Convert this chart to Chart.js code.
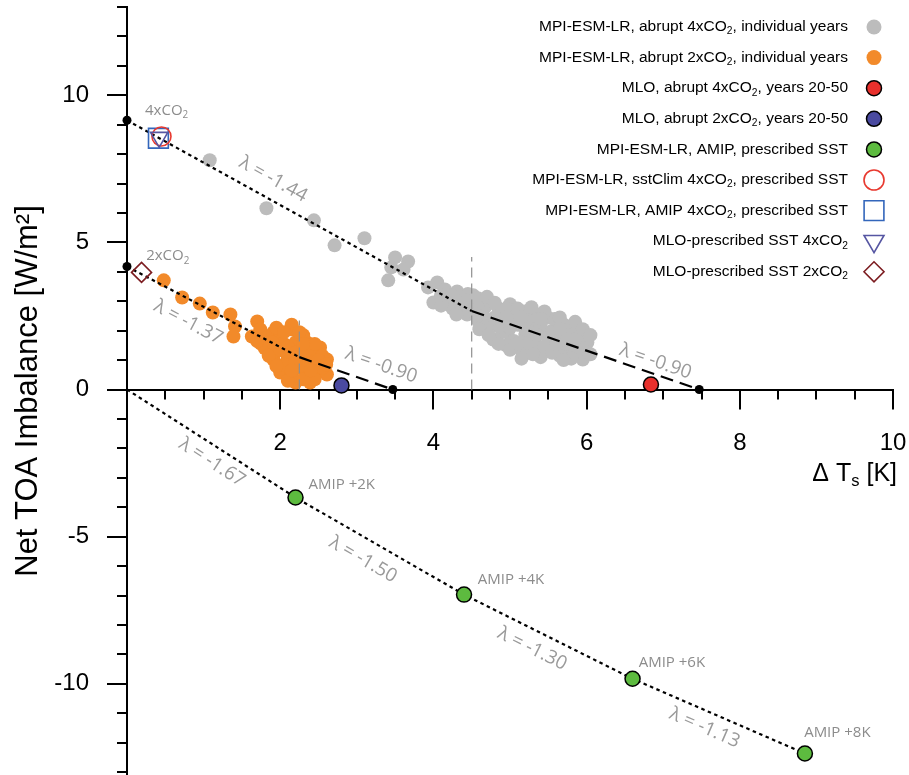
<!DOCTYPE html>
<html>
<head>
<meta charset="utf-8">
<script src="https://cdn.jsdelivr.net/npm/chart.js"></script>
<style>
  html, body { margin: 0; padding: 0; background: #fff; }
  #wrap { width: 909px; height: 775px; }
</style>
</head>
<body>
<div id="wrap"><canvas id="feedback" width="909" height="775"></canvas></div>
<script>
// axis ticks
const xTickValues = [2, 4, 6, 8, 10];
const yTickValues = [-10, -5, 0, 5, 10];

// MPI-ESM-LR abrupt 4xCO2, one point per year [dTs, N]
const abrupt4xYears = [
  [1.08, 7.79], [1.82, 6.16], [2.44, 5.75], [2.71, 4.90], [3.10, 5.14], [3.50, 4.49],
  [3.67, 4.35], [3.45, 4.15], [3.61, 4.08], [3.41, 3.71], [4.05, 3.64], [3.93, 3.47],
  [4.00, 2.96], [4.18, 3.16], [4.31, 3.33], [4.20, 3.00], [4.38, 2.79], [4.44, 2.55],
  [4.64, 3.06], [4.68, 2.82], [4.59, 2.31], [4.72, 2.38], [4.88, 2.55], [4.78, 1.70],
  [4.97, 1.94], [5.05, 2.38], [5.18, 2.65], [5.36, 2.55], [5.49, 2.45], [5.14, 1.36],
  [5.31, 1.70], [5.44, 1.94], [5.62, 2.14], [5.70, 2.21], [5.79, 2.11], [5.66, 1.70],
  [5.83, 1.60], [6.01, 1.60], [5.95, 1.02], [5.75, 1.36], [5.49, 1.36], [5.23, 1.26],
  [4.52, 3.20], [4.56, 2.95], [4.62, 2.70], [4.75, 2.95], [4.85, 2.75], [4.92, 2.30],
  [5.00, 2.60], [5.10, 2.20], [5.25, 2.35], [5.30, 2.05], [5.40, 2.20], [5.55, 2.00],
  [5.58, 2.40], [5.35, 1.50], [5.50, 1.65], [5.60, 1.90], [5.90, 1.90], [5.95, 1.40],
  [5.20, 1.85], [5.05, 1.65], [4.90, 1.95], [4.85, 2.15], [4.65, 2.50], [4.25, 2.75],
  [4.10, 2.85], [4.30, 2.55], [5.72, 1.55], [5.85, 1.25], [5.65, 1.15], [5.40, 1.10],
  [4.95, 1.50], [5.15, 1.05], [6.05, 1.20], [5.00, 2.90], [5.28, 2.80], [4.15, 3.40],
  [4.45, 3.25], [4.50, 2.85], [4.58, 3.10], [4.70, 3.15], [4.80, 2.95], [4.95, 2.75],
  [5.10, 2.75], [5.15, 2.45], [5.45, 2.65], [5.65, 2.45], [5.85, 2.30], [5.95, 2.05],
  [6.05, 1.85], [4.70, 2.15], [4.80, 2.45], [4.60, 2.05], [4.72, 1.85], [4.85, 1.55],
  [5.00, 1.35], [5.10, 1.55], [5.25, 1.55], [5.20, 2.05], [5.35, 1.85], [5.45, 1.45],
  [5.55, 1.25], [5.60, 1.55], [5.75, 1.85], [5.80, 1.05], [5.70, 1.00], [5.30, 1.20],
  [5.00, 2.10], [4.95, 2.45], [5.40, 2.40], [5.65, 2.05], [5.85, 1.70], [4.40, 3.05],
  [4.35, 2.95], [4.10, 3.20], [4.25, 3.20], [4.55, 2.55]
];

// MPI-ESM-LR abrupt 2xCO2, one point per year
const abrupt2xYears = [
  [0.48, 3.71], [0.72, 3.13], [0.95, 2.92], [1.12, 2.62], [1.35, 2.55], [1.41, 2.14],
  [1.39, 1.80], [1.70, 2.31], [1.63, 1.80], [1.74, 2.04], [1.83, 1.77], [1.91, 1.94],
  [2.16, 2.04], [2.35, 1.60], [2.52, 1.43], [2.61, 1.02], [2.61, 0.51], [2.39, 0.24],
  [2.00, 0.58], [1.91, 1.02], [2.26, 0.75], [2.20, 0.24], [1.80, 1.40], [1.95, 1.30],
  [2.05, 1.55], [2.10, 1.10], [2.25, 1.30], [2.30, 1.05], [2.40, 1.20], [2.45, 0.85],
  [2.50, 0.60], [2.35, 0.50], [2.15, 0.45], [2.05, 0.85], [1.85, 1.15], [2.55, 1.15],
  [2.00, 1.75], [2.20, 1.60], [2.40, 0.90], [2.10, 0.30], [2.45, 0.35], [1.75, 1.55],
  [2.30, 1.85], [2.15, 2.20], [1.95, 2.10], [2.05, 1.95], [2.25, 1.95], [2.35, 1.35],
  [2.50, 1.00], [2.55, 0.75], [2.30, 0.70], [2.20, 0.95], [2.00, 1.35], [1.90, 1.60],
  [2.10, 1.45], [2.45, 1.55], [2.15, 0.65], [2.30, 0.35], [2.60, 0.85], [1.95, 0.80],
  [2.20, 1.25], [2.40, 0.65], [1.70, 1.65], [2.30, 1.55]
];

const mlo4x = [[6.84, 0.17]];
const mlo2x = [[2.80, 0.14]];

// AMIP uniform SST warming experiments
const amipTags = ['AMIP +2K', 'AMIP +4K', 'AMIP +6K', 'AMIP +8K'];
const amipWarming = [2.20, 4.40, 6.60, 8.85];
const amipImbalance = [-3.67, -6.97, -9.83, -12.37];

// fixed-SST forcing estimates
const sstClim4x = [[0.45, 8.60]];
const amip4x = [[0.41, 8.54]];
const mloSst4x = [[0.42, 8.57]];
const mloSst2x = [[0.19, 3.98]];

// regression fits: early years (dotted) and later years (dashed)
const fit4xEarly = [[0, 9.15], [4.5, 2.67]];
const fit4xLate = [[4.5, 2.67], [7.47, 0]];
const fit2xEarly = [[0, 4.18], [2.25, 1.10]];
const fit2xLate = [[2.25, 1.10], [3.47, 0]];
const fitIntercepts = [[0, 9.15], [7.47, 0], [0, 4.18], [3.47, 0]];
const splitYear4x = [[4.5, 0], [4.5, 4.5]];
const splitYear2x = [[2.25, 0], [2.25, 2.35]];

const FONT = "'Liberation Sans', Arial, Helvetica, sans-serif";
const NOTE_FONT = "'Open Sans', 'DejaVu Sans', sans-serif";

const toPts = arr => arr.map(([x, y]) => ({ x, y }));
const amipPts = amipWarming.map((x, i) => ({ x, y: amipImbalance[i] }));

function marker(label, data, style, opts) {
  return Object.assign({
    label: label,
    data: data,
    pointStyle: style,
    pointRadius: 7,
    pointHoverRadius: 7,
    pointBorderWidth: 0,
    pointRotation: 0,
    clip: false
  }, opts);
}

function segment(data, dash, color, width, order) {
  return {
    data: toPts(data),
    showLine: true,
    borderColor: color,
    borderWidth: width,
    borderDash: dash,
    pointRadius: 0,
    pointHoverRadius: 0,
    order: order,
    clip: false
  };
}

const datasets = [
  marker('MPI-ESM-LR, abrupt 4xCO₂, individual years', toPts(abrupt4xYears), 'circle',
    { pointRadius: 7, legendRadius: 7.5, pointBackgroundColor: '#bcbcbc', pointBorderColor: '#bcbcbc', order: 20 }),
  marker('MPI-ESM-LR, abrupt 2xCO₂, individual years', toPts(abrupt2xYears), 'circle',
    { pointRadius: 7, legendRadius: 7.5, pointBackgroundColor: '#f28a2a', pointBorderColor: '#f28a2a', order: 19 }),
  marker('MLO, abrupt 4xCO₂, years 20-50', toPts(mlo4x), 'circle',
    { pointRadius: 7.5, pointBackgroundColor: '#e8302c', pointBorderColor: '#000', pointBorderWidth: 1.5, order: 3 }),
  marker('MLO, abrupt 2xCO₂, years 20-50', toPts(mlo2x), 'circle',
    { pointRadius: 7.5, pointBackgroundColor: '#4a4aa0', pointBorderColor: '#000', pointBorderWidth: 1.5, order: 3 }),
  marker('MPI-ESM-LR, AMIP, prescribed SST', amipPts, 'circle',
    { pointRadius: 7.5, pointBackgroundColor: '#5dbb3f', pointBorderColor: '#000', pointBorderWidth: 1.5, order: 3 }),
  marker('MPI-ESM-LR, sstClim 4xCO₂, prescribed SST', toPts(sstClim4x), 'circle',
    { pointRadius: 9.5, legendRadius: 10, pointBackgroundColor: 'rgba(0,0,0,0)', pointBorderColor: '#e8392f', pointBorderWidth: 1.6, order: 2 }),
  marker('MPI-ESM-LR, AMIP 4xCO₂, prescribed SST', toPts(amip4x), 'rect',
    { pointRadius: 14, pointBackgroundColor: 'rgba(0,0,0,0)', pointBorderColor: '#3366bb', pointBorderWidth: 1.6, order: 2 }),
  marker('MLO-prescribed SST 4xCO₂', toPts(mloSst4x), 'triangle',
    { pointRadius: 10, legendRadius: 11.5, pointRotation: 180, pointBackgroundColor: 'rgba(0,0,0,0)', pointBorderColor: '#5656a2', pointBorderWidth: 1.6, order: 1 }),
  marker('MLO-prescribed SST 2xCO₂', toPts(mloSst2x), 'rectRot',
    { pointRadius: 10, pointBackgroundColor: 'rgba(0,0,0,0)', pointBorderColor: '#7c1c20', pointBorderWidth: 1.6, order: 1 }),

  segment(splitYear4x, [10, 6], '#8f8f8f', 1.2, 12),
  segment(splitYear2x, [10, 6], '#8f8f8f', 1.2, 12),
  segment(fit4xEarly, [3.5, 3.5], '#000', 2.2, 10),
  segment(fit4xLate, [13, 7], '#000', 2.2, 10),
  segment(fit2xEarly, [3.5, 3.5], '#000', 2.2, 10),
  segment(fit2xLate, [13, 7], '#000', 2.2, 10),
  Object.assign(segment([[0, 0]], [3.5, 3.5], '#000', 2.2, 10), { data: [{ x: 0, y: 0 }].concat(amipPts) }),
  {
    data: toPts(fitIntercepts),
    pointStyle: 'circle',
    pointRadius: 4.5,
    pointHoverRadius: 4.5,
    pointBackgroundColor: '#000',
    pointBorderWidth: 0,
    order: 4,
    clip: false
  }
];

// slope labels placed along the fitted lines
const slopeNotes = [
  { text: 'λ = -1.44', x: 1.91, y: 7.14, slope: -1.44 },
  { text: 'λ = -1.37', x: 0.80, y: 2.28, slope: -1.37 },
  { text: 'λ = -0.90', x: 3.32, y: 0.82, slope: -0.90 },
  { text: 'λ = -0.90', x: 6.90, y: 0.95, slope: -0.90 },
  { text: 'λ = -1.67', x: 1.11, y: -2.48, slope: -1.67 },
  { text: 'λ = -1.50', x: 3.08, y: -5.78, slope: -1.50 },
  { text: 'λ = -1.30', x: 5.29, y: -8.81, slope: -1.30 },
  { text: 'λ = -1.13', x: 7.54, y: -11.50, slope: -1.13 }
];
const amipTagPos = [[2.37, -3.23], [4.58, -6.46], [6.68, -9.28], [8.84, -11.66]];
const forcingTags = [
  { text: '4xCO₂', x: 0.235, y: 9.46 },
  { text: '2xCO₂', x: 0.25, y: 4.53 }
];

const SUBS = { '₂': '2', 'ₛ': 's' };

function richText(ctx, text, x, y, size, family, align) {
  const runs = [];
  for (const ch of text) {
    const sub = SUBS[ch] !== undefined;
    const c = sub ? SUBS[ch] : ch;
    const last = runs[runs.length - 1];
    if (last && last.sub === sub) last.t += c;
    else runs.push({ t: c, sub: sub });
  }
  const subSize = size * 0.66;
  let w = 0;
  runs.forEach(r => {
    ctx.font = (r.sub ? subSize : size) + 'px ' + family;
    r.w = ctx.measureText(r.t).width;
    w += r.w;
  });
  let cx = align === 'right' ? x - w : (align === 'center' ? x - w / 2 : x);
  ctx.textAlign = 'left';
  ctx.textBaseline = 'middle';
  runs.forEach(r => {
    ctx.font = (r.sub ? subSize : size) + 'px ' + family;
    ctx.fillText(r.t, cx, r.sub ? y + size * 0.3 : y);
    cx += r.w;
  });
}

const decor = {
  id: 'decor',
  beforeDatasetsDraw(chart) {
    const ctx = chart.ctx;
    const xs = chart.scales.x, ys = chart.scales.y;
    const y0 = ys.getPixelForValue(0);
    const left = chart.chartArea.left;
    ctx.save();
    ctx.strokeStyle = '#000';
    ctx.lineWidth = 2;
    ctx.beginPath();
    // x ticks every 0.5 K, long ones at labelled values
    for (let v = 0.5; v <= 10; v += 0.5) {
      const px = Math.round(xs.getPixelForValue(v));
      const len = xTickValues.includes(v) ? 20 : 10;
      ctx.moveTo(px, y0);
      ctx.lineTo(px, y0 + len);
    }
    // y ticks every 1 W/m2, long ones at labelled values
    for (let v = -13; v <= 13; v += 1) {
      const py = Math.round(ys.getPixelForValue(v));
      const len = yTickValues.includes(v) ? 20 : 10;
      ctx.moveTo(left, py);
      ctx.lineTo(left - len, py);
    }
    ctx.stroke();
    ctx.restore();
  },
  afterDatasetsDraw(chart) {
    const ctx = chart.ctx;
    const xs = chart.scales.x, ys = chart.scales.y;
    const pxPerX = xs.getPixelForValue(1) - xs.getPixelForValue(0);
    const pxPerY = ys.getPixelForValue(0) - ys.getPixelForValue(1);
    ctx.save();

    // slope labels
    ctx.fillStyle = '#9a9a9a';
    ctx.font = '19px ' + NOTE_FONT;
    ctx.textAlign = 'center';
    ctx.textBaseline = 'middle';
    slopeNotes.forEach(n => {
      const ang = Math.atan(-n.slope * pxPerY / pxPerX);
      ctx.save();
      ctx.translate(xs.getPixelForValue(n.x), ys.getPixelForValue(n.y));
      ctx.rotate(ang);
      ctx.fillText(n.text, 0, 0);
      ctx.restore();
    });

    // AMIP experiment names
    ctx.fillStyle = '#8c8c8c';
    ctx.font = '15px ' + NOTE_FONT;
    ctx.textAlign = 'left';
    amipTags.forEach((t, i) => {
      ctx.fillText(t, xs.getPixelForValue(amipTagPos[i][0]), ys.getPixelForValue(amipTagPos[i][1]));
    });
    forcingTags.forEach(t => {
      richText(ctx, t.text, xs.getPixelForValue(t.x), ys.getPixelForValue(t.y), 15, NOTE_FONT, 'left');
    });

    // x axis title
    ctx.fillStyle = '#000';
    richText(ctx, 'Δ Tₛ [K]', 897, 474, 25, FONT, 'right');

    // legend, text right-aligned with the marker to its right
    let row = 0;
    chart.data.datasets.forEach(ds => {
      if (!ds.label) return;
      const y = 27 + row * 30.6;
      ctx.fillStyle = '#000';
      richText(ctx, ds.label, 848, y, 15.5, FONT, 'right');
      ctx.fillStyle = ds.pointBackgroundColor;
      ctx.strokeStyle = ds.pointBorderColor;
      ctx.lineWidth = ds.pointBorderWidth;
      Chart.helpers.drawPoint(ctx, {
        pointStyle: ds.pointStyle,
        radius: ds.legendRadius || ds.pointRadius,
        rotation: ds.pointRotation,
        borderWidth: ds.pointBorderWidth
      }, 874, y);
      row++;
    });
    ctx.restore();
  }
};

new Chart(document.getElementById('feedback'), {
  type: 'scatter',
  data: { datasets: datasets },
  options: {
    responsive: false,
    animation: false,
    events: [],
    layout: { autoPadding: false, padding: { left: 0, right: 16, top: 7, bottom: 0 } },
    plugins: { legend: { display: false }, tooltip: { enabled: false } },
    scales: {
      x: {
        type: 'linear',
        position: { y: 0 },
        min: 0,
        max: 10,
        afterBuildTicks: s => { s.ticks = xTickValues.map(v => ({ value: v })); },
        // the tick labels may overhang the plot edges
        afterFit: s => { s.paddingLeft = 0; s.paddingRight = 0; },
        grid: { display: false, drawTicks: false },
        border: { display: true, color: '#000', width: 2 },
        ticks: { padding: 39, color: '#000', font: { size: 24, family: FONT } }
      },
      y: {
        type: 'linear',
        position: 'left',
        min: -13.1,
        max: 13,
        afterBuildTicks: s => { s.ticks = yTickValues.map(v => ({ value: v })); },
        afterFit: s => { s.width = 127; s.paddingTop = 0; s.paddingBottom = 0; },
        grid: { display: false, drawTicks: false },
        border: { display: true, color: '#000', width: 2 },
        ticks: { padding: 38, color: '#000', font: { size: 24, family: FONT } },
        title: {
          display: true,
          text: 'Net TOA Imbalance [W/m²]',
          color: '#000',
          font: { size: 31, family: FONT },
          padding: { top: 10, bottom: 0 }
        }
      }
    }
  },
  plugins: [decor]
});
</script>
</body>
</html>
